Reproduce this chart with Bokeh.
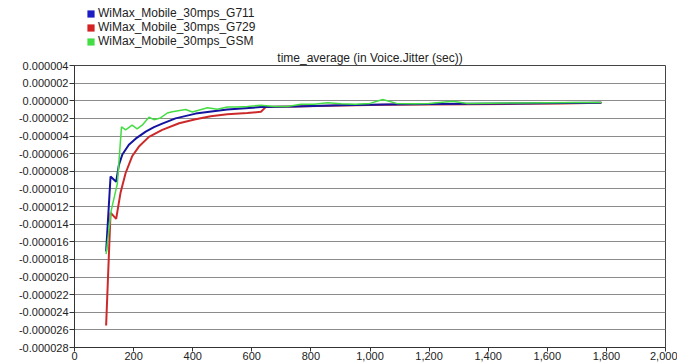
from bokeh.plotting import figure
from bokeh.layouts import column
from bokeh.models import (Range1d, FixedTicker, CustomJSTickFormatter, NumeralTickFormatter,
                          Legend, LegendItem)
from bokeh.embed import file_html
from bokeh.resources import INLINE

# ---- data (seconds) ----
g711_x = [107, 122, 141, 150, 162, 184, 207, 241, 269, 297, 342, 410, 517, 631, 743, 902,
          1050, 1200, 1350, 1500, 1650, 1783]
g711_y = [-17.1e-6, -8.6e-6, -9.2e-6, -7.3e-6, -6.1e-6, -5.0e-6, -4.3e-6, -3.5e-6, -3.0e-6,
          -2.6e-6, -2.0e-6, -1.46e-6, -1.0e-6, -0.72e-6, -0.64e-6, -0.52e-6,
          -0.42e-6, -0.38e-6, -0.34e-6, -0.30e-6, -0.26e-6, -0.22e-6]

g729_x = [107, 122, 141, 156, 173, 195, 218, 252, 297, 354, 410, 461, 517, 585, 631, 647,
          743, 902, 1050, 1200, 1350, 1500, 1650, 1783]
g729_y = [-25.5e-6, -12.7e-6, -13.4e-6, -10.4e-6, -8.2e-6, -6.3e-6, -5.2e-6, -4.1e-6, -3.3e-6,
          -2.55e-6, -2.1e-6, -1.75e-6, -1.54e-6, -1.39e-6, -1.25e-6, -0.72e-6,
          -0.66e-6, -0.55e-6, -0.45e-6, -0.42e-6, -0.40e-6, -0.35e-6, -0.30e-6, -0.24e-6]

gsm_x = [107, 124, 145, 159, 173, 195, 212, 229, 252, 269, 291, 314, 331, 376, 399, 450,
         484, 517, 551, 585, 631, 676, 721, 766, 811, 857, 902, 950, 1000, 1043, 1090,
         1150, 1200, 1280, 1330, 1400, 1500, 1600, 1700, 1783]
gsm_y = [-17.4e-6, -12.5e-6, -9.4e-6, -2.96e-6, -3.3e-6, -2.77e-6, -3.2e-6, -2.77e-6, -1.87e-6,
         -2.15e-6, -1.95e-6, -1.39e-6, -1.25e-6, -1.0e-6, -1.27e-6, -0.79e-6,
         -0.97e-6, -0.71e-6, -0.71e-6, -0.64e-6, -0.52e-6, -0.64e-6, -0.64e-6, -0.41e-6,
         -0.41e-6, -0.22e-6, -0.34e-6, -0.40e-6, -0.30e-6, 0.15e-6, -0.30e-6,
         -0.35e-6, -0.30e-6, -0.05e-6, -0.30e-6, -0.28e-6, -0.25e-6, -0.22e-6, -0.2e-6, -0.2e-6]

labels = ["WiMax_Mobile_30mps_G711", "WiMax_Mobile_30mps_G729", "WiMax_Mobile_30mps_GSM"]
title_text = "time_average (in Voice.Jitter (sec))"
y_ticks = [v * 1e-6 for v in range(-28, 5, 2)]
x_ticks = list(range(0, 2001, 200))

FONT = "Liberation Sans"
colors = ["#1414a0", "#cc2a2a", "#44dd44"]
sw_colors = ["#1c1cc4", "#d42222", "#44dd44"]

# ---------- header figure: legend ----------
head = figure(width=677, height=48, output_backend="svg", toolbar_location=None,
              x_axis_type=None, y_axis_type=None,
              min_border_left=74, min_border_right=12, min_border_top=0, min_border_bottom=0)
head.title_location = None
head.outline_line_color = None

# zero-area swatches for the legend (legend draws them as filled squares)
s_blue = head.varea(x=g711_x, y1=g711_y, y2=g711_y, fill_color=sw_colors[0])
s_red = head.varea(x=g729_x, y1=g729_y, y2=g729_y, fill_color=sw_colors[1])
s_green = head.varea(x=gsm_x, y1=gsm_y, y2=gsm_y, fill_color=sw_colors[2])

legend = Legend(items=[LegendItem(label=labels[0], renderers=[s_blue]),
                       LegendItem(label=labels[1], renderers=[s_red]),
                       LegendItem(label=labels[2], renderers=[s_green])],
                location=(12, 0), orientation="vertical",
                glyph_width=9, glyph_height=9, label_height=12, spacing=-3,
                padding=0, margin=0, label_standoff=3,
                label_text_font=FONT, label_text_font_size="12px", label_text_color="#222222",
                border_line_alpha=0, background_fill_alpha=0)
head.add_layout(legend)

# ---------- main chart ----------
p = figure(width=677, height=314, output_backend="svg", toolbar_location=None,
           x_range=Range1d(0, 2000), y_range=Range1d(-28e-6, 4e-6),
           min_border_left=74, min_border_right=12, min_border_top=14, min_border_bottom=0)

p.title.text = title_text
p.title.align = "center"
p.title.text_font = FONT
p.title.text_font_size = "12px"
p.title.text_font_style = "normal"
p.title.text_color = "#222222"
p.title.standoff = 1

p.outline_line_color = "#444444"
p.outline_line_width = 1

p.xgrid.grid_line_color = None
p.ygrid.grid_line_color = "#8c8c8c"
p.ygrid.grid_line_width = 1

p.yaxis.ticker = FixedTicker(ticks=y_ticks)
p.xaxis.ticker = FixedTicker(ticks=x_ticks)
p.yaxis.formatter = CustomJSTickFormatter(code="return (Math.abs(tick) < 1e-12 ? 0 : tick).toFixed(6)")
p.xaxis.formatter = NumeralTickFormatter(format="0,0")

for ax in (p.xaxis, p.yaxis):
    ax.axis_line_color = "#333333"
    ax.major_tick_line_color = "#333333"
    ax.major_tick_in = 0
    ax.minor_tick_line_color = None
    ax.major_label_text_font = FONT
    ax.major_label_text_font_size = "11px"
    ax.major_label_text_color = "#222222"
p.yaxis.major_tick_out = 5
p.yaxis.major_label_standoff = 1
p.xaxis.major_tick_out = 4
p.xaxis.major_label_standoff = 0

p.line(g729_x, g729_y, line_color=colors[1], line_width=2)
p.line(g711_x, g711_y, line_color=colors[0], line_width=2)
p.line(gsm_x, gsm_y, line_color=colors[2], line_width=1.5)

layout = column(head, p, spacing=0)
open("out.html", "w").write(file_html(layout, INLINE))
